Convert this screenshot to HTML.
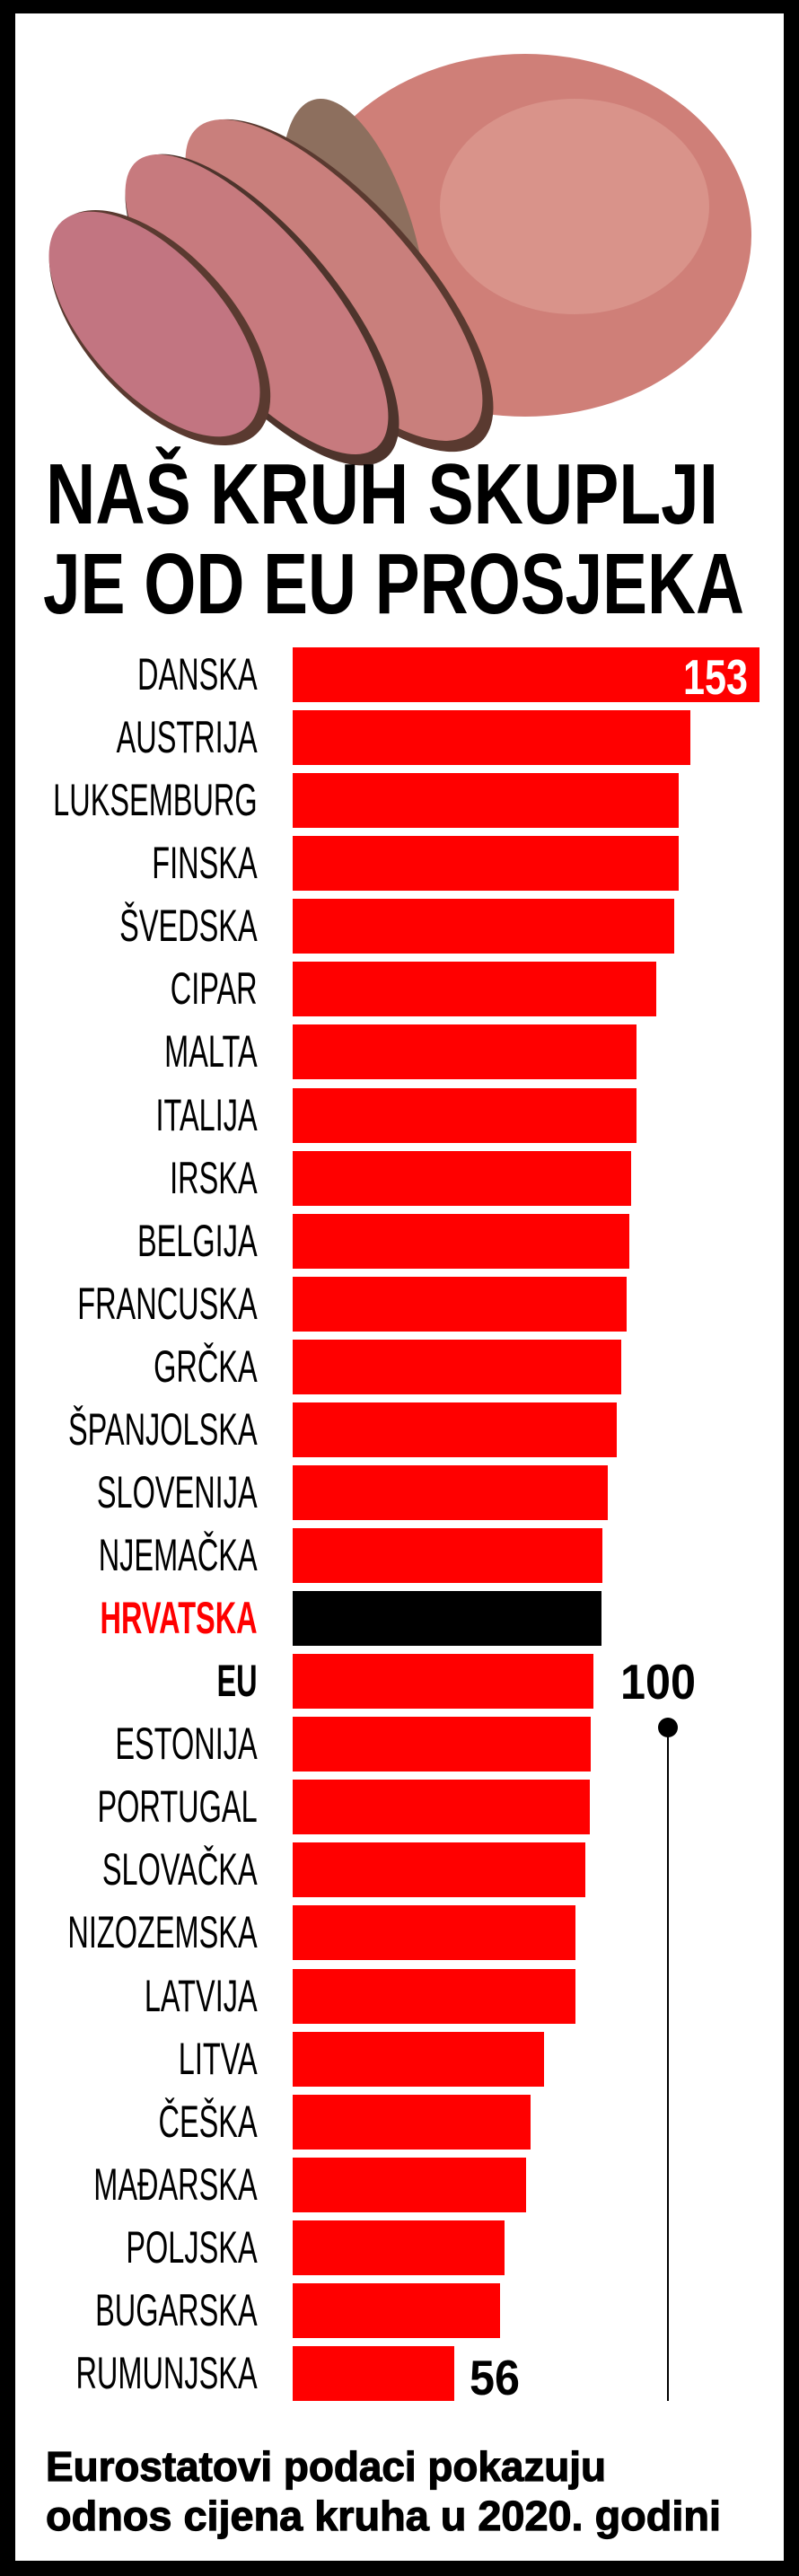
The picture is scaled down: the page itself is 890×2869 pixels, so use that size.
<!DOCTYPE html>
<html><head><meta charset="utf-8"><style>html,body{margin:0;padding:0;background:#000}svg{display:block}</style></head>
<body>
<svg width="890" height="2869" viewBox="0 0 890 2869" xmlns="http://www.w3.org/2000/svg">
<rect x="0" y="0" width="890" height="2869" fill="#000"/>
<rect x="17" y="15" width="856" height="2837" fill="#fff"/>
<!-- bread -->
<g>
<ellipse cx="585" cy="262" rx="252" ry="202" fill="#cf7f78"/>
<ellipse cx="640" cy="230" rx="150" ry="120" fill="#e0a096" opacity="0.6"/>
<ellipse cx="395" cy="280" rx="70" ry="175" transform="rotate(-15 395 280)" fill="#8d6f5e"/>
<ellipse cx="378" cy="318" rx="235" ry="92" transform="rotate(48 378 318)" fill="#5a3a30"/>
<ellipse cx="372" cy="312" rx="228" ry="86" transform="rotate(48 372 312)" fill="#c97f7c"/>
<ellipse cx="292" cy="345" rx="215" ry="84" transform="rotate(50 292 345)" fill="#4e342c"/>
<ellipse cx="286" cy="339" rx="208" ry="78" transform="rotate(50 286 339)" fill="#c77a7e"/>
<ellipse cx="178" cy="365" rx="160" ry="82" transform="rotate(48 178 365)" fill="#5a3a30"/>
<ellipse cx="172" cy="361" rx="154" ry="76" transform="rotate(48 172 361)" fill="#c27581"/>
</g>
<!-- title -->
<g font-family="Liberation Sans, sans-serif" font-weight="bold" fill="#000">
<text x="51" y="583" font-size="96" textLength="749" lengthAdjust="spacingAndGlyphs">NAŠ KRUH SKUPLJI</text>
<text x="48" y="683" font-size="96" textLength="781" lengthAdjust="spacingAndGlyphs">JE OD EU PROSJEKA</text>
</g>
<!-- bars -->
<g fill="#ff0000">
<rect x="326" y="721" width="520" height="61"/>
<rect x="326" y="791" width="443" height="61"/>
<rect x="326" y="861" width="430" height="61"/>
<rect x="326" y="931" width="430" height="61"/>
<rect x="326" y="1001" width="425" height="61"/>
<rect x="326" y="1071" width="405" height="61"/>
<rect x="326" y="1141" width="383" height="61"/>
<rect x="326" y="1212" width="383" height="61"/>
<rect x="326" y="1282" width="377" height="61"/>
<rect x="326" y="1352" width="375" height="61"/>
<rect x="326" y="1422" width="372" height="61"/>
<rect x="326" y="1492" width="366" height="61"/>
<rect x="326" y="1562" width="361" height="61"/>
<rect x="326" y="1632" width="351" height="61"/>
<rect x="326" y="1702" width="345" height="61"/>
<rect x="326" y="1772" width="344" height="61" fill="#000"/>
<rect x="326" y="1842" width="335" height="61"/>
<rect x="326" y="1912" width="332" height="61"/>
<rect x="326" y="1982" width="331" height="61"/>
<rect x="326" y="2052" width="326" height="61"/>
<rect x="326" y="2122" width="315" height="61"/>
<rect x="326" y="2193" width="315" height="61"/>
<rect x="326" y="2263" width="280" height="61"/>
<rect x="326" y="2333" width="265" height="61"/>
<rect x="326" y="2403" width="260" height="61"/>
<rect x="326" y="2473" width="236" height="61"/>
<rect x="326" y="2543" width="231" height="61"/>
<rect x="326" y="2613" width="180" height="61"/>
</g>
<!-- labels -->
<g font-family="Liberation Sans, sans-serif" font-size="50" fill="#000" text-anchor="end" transform="scale(0.65 1)">
<text x="441" y="768">DANSKA</text>
<text x="441" y="838">AUSTRIJA</text>
<text x="441" y="908">LUKSEMBURG</text>
<text x="441" y="978">FINSKA</text>
<text x="441" y="1048">ŠVEDSKA</text>
<text x="441" y="1118">CIPAR</text>
<text x="441" y="1188">MALTA</text>
<text x="441" y="1259">ITALIJA</text>
<text x="441" y="1329">IRSKA</text>
<text x="441" y="1399">BELGIJA</text>
<text x="441" y="1469">FRANCUSKA</text>
<text x="441" y="1539">GRČKA</text>
<text x="441" y="1609">ŠPANJOLSKA</text>
<text x="441" y="1679">SLOVENIJA</text>
<text x="441" y="1749">NJEMAČKA</text>
<text x="441" y="1819" fill="#ff0000" font-weight="bold">HRVATSKA</text>
<text x="441" y="1889" font-weight="bold">EU</text>
<text x="441" y="1959">ESTONIJA</text>
<text x="441" y="2029">PORTUGAL</text>
<text x="441" y="2099">SLOVAČKA</text>
<text x="441" y="2169">NIZOZEMSKA</text>
<text x="441" y="2240">LATVIJA</text>
<text x="441" y="2310">LITVA</text>
<text x="441" y="2380">ČEŠKA</text>
<text x="441" y="2450">MAĐARSKA</text>
<text x="441" y="2520">POLJSKA</text>
<text x="441" y="2590">BUGARSKA</text>
<text x="441" y="2660">RUMUNJSKA</text>
</g>
<!-- values -->
<g font-family="Liberation Sans, sans-serif" font-weight="bold" font-size="55">
<text x="761" y="773" fill="#fff" textLength="72" lengthAdjust="spacingAndGlyphs">153</text>
<text x="691" y="1892" fill="#000" textLength="84" lengthAdjust="spacingAndGlyphs">100</text>
<text x="523" y="2667" fill="#000" textLength="56" lengthAdjust="spacingAndGlyphs">56</text>
</g>
<circle cx="744" cy="1924" r="11" fill="#000"/>
<rect x="743" y="1924" width="2" height="750" fill="#000"/>
<!-- footer -->
<g font-family="Liberation Sans, sans-serif" font-weight="bold" font-size="46" fill="#000" stroke="#000" stroke-width="1.2">
<text x="51" y="2763" textLength="624" lengthAdjust="spacingAndGlyphs">Eurostatovi podaci pokazuju</text>
<text x="51" y="2818" textLength="752" lengthAdjust="spacingAndGlyphs">odnos cijena kruha u 2020. godini</text>
</g>
</svg>
</body></html>
